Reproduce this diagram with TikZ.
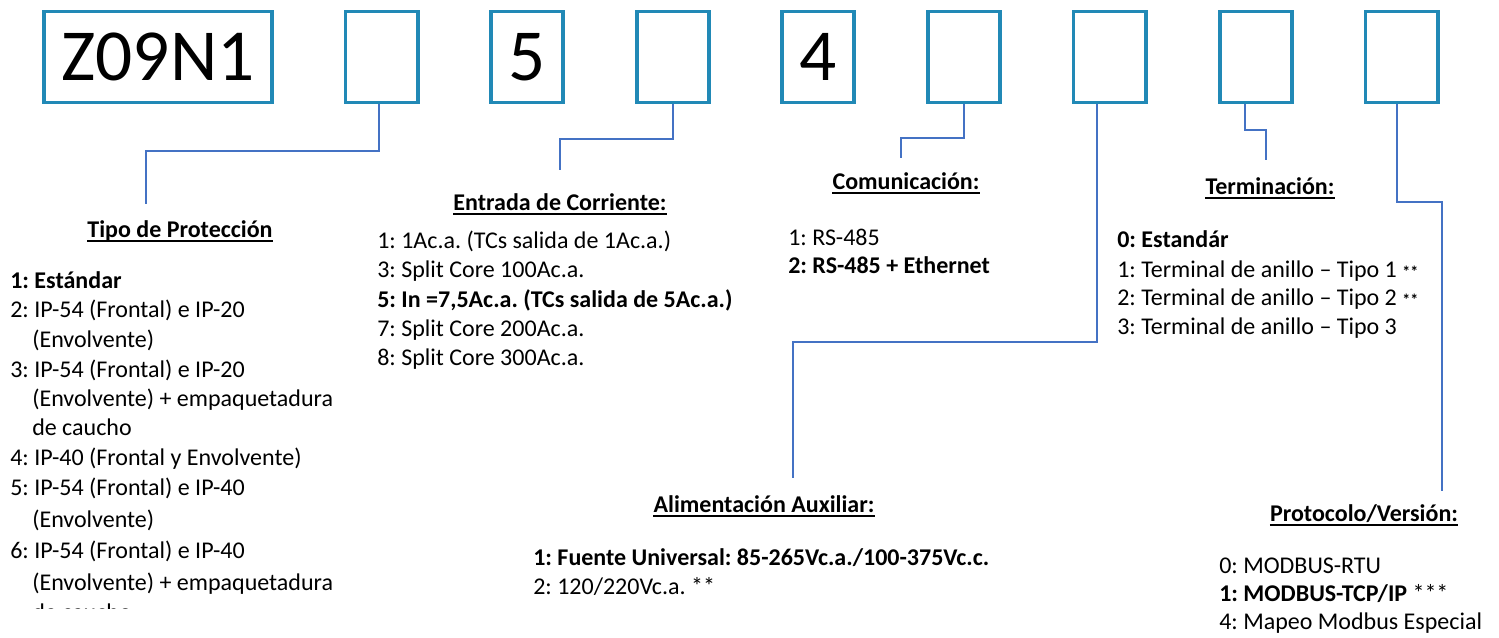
\documentclass[tikz,border=0pt]{standalone}
\usepackage{fontspec}
\setmainfont{Carlito}
\frenchspacing
\definecolor{slotblue}{RGB}{33,137,182}
\definecolor{linkblue}{RGB}{68,114,196}
\newcommand\smallast{{\fontsize{12}{14}\selectfont\bfseries **}}
\tikzset{
  slot/.style={draw=slotblue, line width=2.8pt, minimum width=54.2pt,
    minimum height=68.1pt, inner sep=0pt, font=\fontsize{55}{60}\selectfont},
  link/.style={draw=linkblue, line width=1pt},
  head/.style={font=\fontsize{18}{22}\selectfont\bfseries, inner sep=0pt, anchor=base},
  item/.style={font=\fontsize{18}{22}\selectfont, inner sep=0pt, anchor=base west},
  uline/.style={line width=1.1pt}
}

\begin{document}
\begin{tikzpicture}[x=0.75pt,y=-0.75pt]
  \useasboundingbox (0,0) rectangle (1499,637);
  % Code slots
  \node[slot, minimum width=171.2pt] (model) at (158,57) {Z09N1};
  \foreach \x/\txt [count=\i] in {381.5/{},527/5,673/{},818/4,964/{},1109.5/{},1256/{},1401.5/{}}
    \node[slot] (s\i) at (\x,57) {\txt};
  % Headings
  \foreach \x/\y/\txt/\n in {
    180/237/Tipo de Protección/hTipo,
    560/210/Entrada de Corriente:/hEnt,
    906/189/Comunicación:/hCom,
    1270/194/Terminación:/hTer,
    764/512/Alimentación Auxiliar:/hAli,
    1364/521/{Protocolo/Versión:}/hPro
  }{
    \node[head] (\n) at (\x,\y) {\txt};
    \draw[uline] ([yshift=-3pt]\n.base west) -- ([yshift=-3pt]\n.base east);
  }
  % Connectors
  \coordinate (tipoEnd) at (146,204);
  \coordinate (entEnd) at (560,170);
  \coordinate (comEnd) at (901,158);
  \coordinate (aliEnd) at (793,478);
  \coordinate (terEnd) at (1266,160);
  \coordinate (proEnd) at (1442,491);
  \draw[link] ([xshift=-1.9pt]s1.south) |- (146,151) -- (tipoEnd);
  \draw[link] (s3.south) |- (560,139) -- (entEnd);
  \draw[link] (s5.south) |- (901,138) -- (comEnd);
  \draw[link] ([xshift=-9.4pt]s6.south) |- (793,342) -- (aliEnd);
  \draw[link] ([xshift=-8.2pt]s7.south) |- (1266,130) -- (terEnd);
  \draw[link] ([xshift=-3.4pt]s8.south) |- (1442,202) -- (proEnd);
  % Tipo de Protección
  \begin{scope}
    \clip (0,0) rectangle (400,608);
    \foreach \x/\y/\txt [count=\i] in {
      10/288/\textbf{1: Estándar},
      10/317/2: IP-54 (Frontal) e IP-20,
      32/347/(Envolvente),
      10/377/3: IP-54 (Frontal) e IP-20,
      32/406/(Envolvente) + empaquetadura,
      32/435/de caucho,
      10/465/4: IP-40 (Frontal y Envolvente),
      10/495/5: IP-54 (Frontal) e IP-40,
      32/527/(Envolvente),
      10/558/6: IP-54 (Frontal) e IP-40,
      32/590/(Envolvente) + empaquetadura,
      32/620/de caucho}
      \node[item] (tipo\i) at (\x,\y) {\txt};
  \end{scope}
  % Entrada de Corriente
  \foreach \y/\txt [count=\i] in {
    248/1: 1Ac.a. (TCs salida de 1Ac.a.),
    277/3: Split Core 100Ac.a.,
    307/{\textbf{5: In =7,5Ac.a. (TCs salida de 5Ac.a.)}},
    336/7: Split Core 200Ac.a.,
    365/8: Split Core 300Ac.a.}
    \node[item] (ent\i) at (377,\y) {\txt};
  % Comunicación
  \node[item] (com1) at (788,245) {1: RS-485};
  \node[item] (com2) at (788,273) {\textbf{2: RS-485 + Ethernet}};
  % Terminación
  \foreach \y/\txt [count=\i] in {
    247/\textbf{0: Estandár},
    277/1: Terminal de anillo – Tipo 1 \smallast,
    305/2: Terminal de anillo – Tipo 2 \smallast,
    334/3: Terminal de anillo – Tipo 3}
    \node[item] (ter\i) at (1117,\y) {\txt};
  % Alimentación Auxiliar
  \node[item] (ali1) at (533,565) {\textbf{1: Fuente Universal: 85-265Vc.a./100-375Vc.c.}};
  \node[item] (ali2) at (533,594) {2: 120/220Vc.a. **};
  % Protocolo/Versión
  \node[item] (pro1) at (1219,573) {0: MODBUS-RTU};
  \node[item] (pro2) at (1219,601) {\textbf{1: MODBUS-TCP/IP} ***};
  \node[item] (pro3) at (1219,629) {4: Mapeo Modbus Especial};
\end{tikzpicture}
\end{document}
